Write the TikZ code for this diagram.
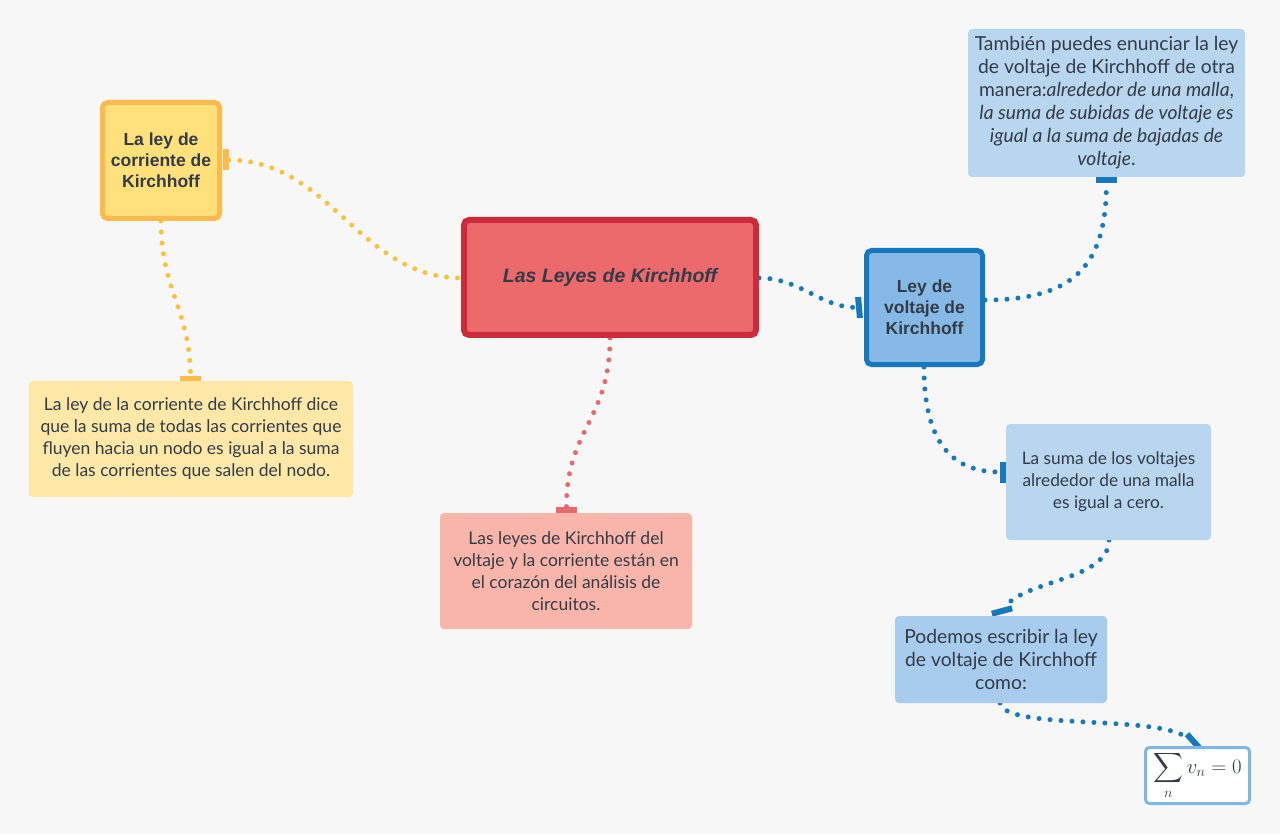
\documentclass[tikz,border=0pt]{standalone}
\usepackage{exscale}
\usepackage{fontspec}
\setmainfont{Lato}
\newfontfamily\headfont{Liberation Sans}
\definecolor{bgcol}{HTML}{F7F7F7}
\definecolor{inkcol}{HTML}{333B48}
\definecolor{yelfill}{HTML}{FFE07A}
\definecolor{yelline}{HTML}{FCB94C}
\definecolor{yellight}{HTML}{FDE8A8}
\definecolor{yeldot}{HTML}{F9C13E}
\definecolor{redfill}{HTML}{EC6A6C}
\definecolor{redline}{HTML}{CB2B3B}
\definecolor{redlight}{HTML}{FAB5AA}
\definecolor{reddot}{HTML}{E46A6C}
\definecolor{bluefill}{HTML}{86B9E5}
\definecolor{blueline}{HTML}{1779BD}
\definecolor{bluelight}{HTML}{B8D6EF}
\definecolor{bluemid}{HTML}{A8CCED}
\definecolor{bluepale}{HTML}{7FB6E2}
\tikzset{
  headbox/.style={rectangle, rounded corners=5pt, line width=5pt, align=center,
    text=inkcol, font=\headfont\bfseries\fontsize{17.5}{21}\selectfont},
  notebox/.style={rectangle, rounded corners=4pt, align=center, text=inkcol,
    font=\fontsize{17.5}{22}\selectfont},
  dotline/.style={line width=5pt, line cap=round, dash pattern=on 0pt off 11pt},
  tabmark/.style={rectangle, minimum width=21pt, minimum height=6pt, inner sep=0pt}
}
\begin{document}
\begin{tikzpicture}[x=1pt,y=-1pt]

\useasboundingbox[fill=bgcol] (0,0) rectangle (1280,834);

% tabs where the connectors meet the boxes
\begin{scope}
\node[tabmark, fill=yelline, rotate=90] (tlc) at (225.5,160) {};
\node[tabmark, fill=yelline] (tlct) at (190.5,379) {};
\node[tabmark, fill=reddot] (tnote) at (566.5,510) {};
\node[tabmark, fill=blueline, rotate=95] (tlv) at (859,307.5) {};
\node[tabmark, fill=blueline] (ttop) at (1106.5,180) {};
\node[tabmark, fill=blueline, rotate=90] (tmid) at (1003,472) {};
\node[tabmark, fill=blueline, rotate=15] (tlow) at (1002,611) {};
\node[tabmark, fill=blueline, rotate=-48] (tsum) at (1194,742) {};
\end{scope}

% connectors
\begin{scope}[dotline]
\draw[yeldot] (tlc) .. controls (330,160) and (360,278) .. (461,278);
\draw[yeldot] (161,221) .. controls (161,290) and (190,310) .. (tlct);
\draw[reddot] (610,338) .. controls (610,420) and (566,430) .. (tnote);
\draw[blueline] (759,278) .. controls (800,278) and (820,307) .. (tlv);
\draw[blueline] (985,300) .. controls (1080,300) and (1106,260) .. (ttop);
\draw[blueline] (924,367) .. controls (924,440) and (950,472) .. (tmid);
\draw[blueline] (1109,540) .. controls (1109,580) and (1025,580) .. (tlow);
\draw[blueline] (1000,703) .. controls (1005,730) and (1150,715) .. (tsum);
\end{scope}

% main boxes
\node[headbox, fill=yelfill, draw=yelline, minimum width=117pt, minimum height=116pt]
  (lc) at (161,160.5) {La ley de\\corriente de\\Kirchhoff};
\node[headbox, fill=redfill, draw=redline, line width=6pt, minimum width=292pt,
  minimum height=115pt, font=\headfont\bfseries\itshape\fontsize{19.5}{23}\selectfont]
  (ml) at (610,277.5) {Las Leyes de Kirchhoff};
\node[headbox, fill=bluefill, draw=blueline, minimum width=116pt, minimum height=114pt]
  (lv) at (924.5,307.5) {Ley de\\voltaje de\\Kirchhoff};

% notes
\node[notebox, fill=yellight, minimum width=324pt, minimum height=116pt]
  (nlc) at (191,439) {La ley de la corriente de Kirchhoff dice\\que la suma de todas las corrientes que\\fluyen hacia un nodo es igual a la suma\\de las corrientes que salen del nodo.};
\node[notebox, fill=redlight, minimum width=252pt, minimum height=116pt]
  (nml) at (566,571) {Las leyes de Kirchhoff del\\voltaje y la corriente están en\\el corazón del análisis de\\circuitos.};
\node[notebox, fill=bluelight, minimum width=277pt, minimum height=148pt,
  font=\fontsize{19.3}{23}\selectfont]
  (ntop) at (1106.5,103) {También puedes enunciar la ley\\de voltaje de Kirchhoff de otra\\manera:\textit{alrededor de una malla},\\\textit{la suma de subidas de voltaje es}\\\textit{igual a la suma de bajadas de}\\\textit{voltaje}.};
\node[notebox, fill=bluelight, minimum width=205pt, minimum height=116pt,
  font=\fontsize{17.3}{22}\selectfont]
  (nmid) at (1108.5,482) {La suma de los voltajes\\alrededor de una malla\\es igual a cero.};
\node[notebox, fill=bluemid, minimum width=212pt, minimum height=87pt,
  font=\fontsize{19.3}{23}\selectfont]
  (nlow) at (1001,659.5) {Podemos escribir la ley\\de voltaje de Kirchhoff\\como:};
\node[notebox, fill=white, draw=bluepale, line width=3pt, minimum width=104pt,
  minimum height=56pt, inner sep=0pt, font=\fontsize{20.5}{24}\selectfont]
  (nsum) at (1197.5,775.5) {$\displaystyle\sum_n v_n = 0$};

\end{tikzpicture}
\end{document}
